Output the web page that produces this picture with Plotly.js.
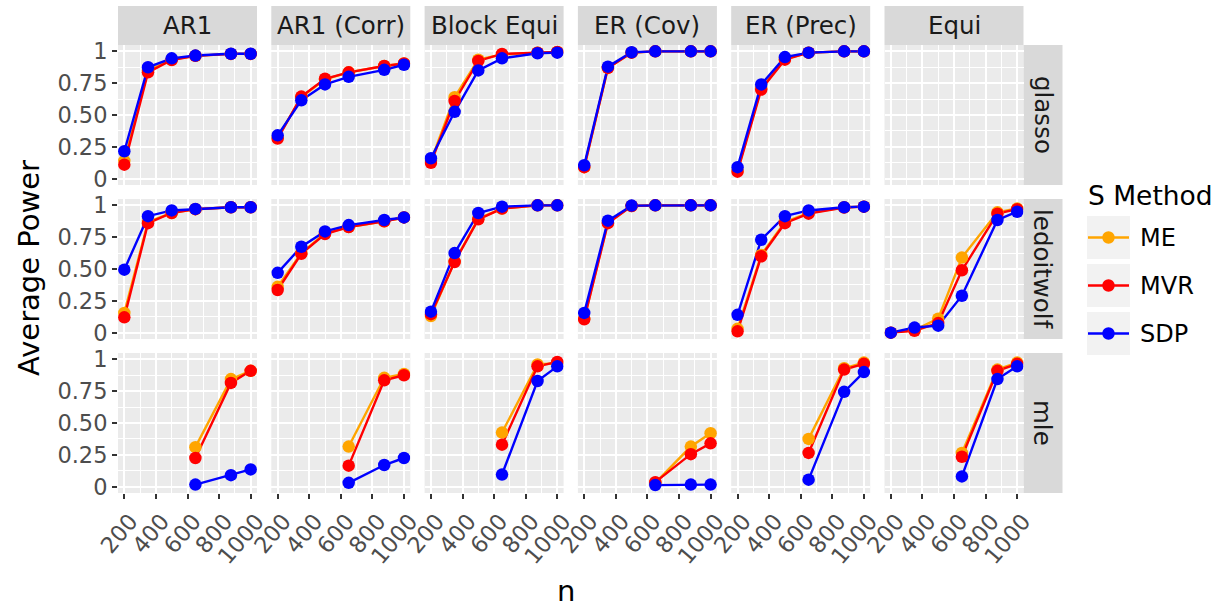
<!DOCTYPE html>
<html>
<head>
<meta charset="utf-8">
<script src="https://cdn.plot.ly/plotly-3.0.1.min.js"></script>
<style>html,body{margin:0;padding:0;background:#fff;}#chart{width:1222px;height:607px;}</style>
</head>
<body>
<div id="chart"></div>
<script>
// ---------- data ----------
const nValues = [200, 350, 500, 650, 875, 1000];
const covTypes = ["AR1", "AR1 (Corr)", "Block Equi", "ER (Cov)", "ER (Prec)", "Equi"];
const estimators = ["glasso", "ledoitwolf", "mle"];
const sMethods = ["ME", "MVR", "SDP"];
const methodColors = ["#FFA500", "#FF0000", "#0000FF"];
const xTickVals = [200, 400, 600, 800, 1000];
const xTickText = ["200", "400", "600", "800", "1000"];
const yTickVals = [0, 0.25, 0.5, 0.75, 1];
const yTickText = ["0", "0.25", "0.50", "0.75", "1"];

// rows: covariance types in order of covTypes; values over nValues
const glassoME = [
  [0.14, 0.85, 0.935, 0.965, 0.98, 0.98],
  [0.32, 0.64, 0.78, 0.835, 0.885, 0.905],
  [0.14, 0.64, 0.935, 0.975, 0.99, 0.995],
  [0.09, 0.87, 0.99, 1.0, 1.0, 1.0],
  [0.065, 0.71, 0.94, 0.99, 1.0, 1.0],
  [null, null, null, null, null, null]
];
const glassoMVR = [
  [0.11, 0.835, 0.932, 0.965, 0.98, 0.98],
  [0.315, 0.645, 0.785, 0.835, 0.885, 0.905],
  [0.125, 0.61, 0.925, 0.98, 0.99, 0.995],
  [0.09, 0.87, 0.99, 1.0, 1.0, 1.0],
  [0.055, 0.70, 0.935, 0.99, 1.0, 1.0],
  [null, null, null, null, null, null]
];
const glassoSDP = [
  [0.215, 0.875, 0.945, 0.967, 0.981, 0.981],
  [0.34, 0.615, 0.74, 0.80, 0.855, 0.895],
  [0.16, 0.525, 0.85, 0.945, 0.985, 0.99],
  [0.105, 0.88, 0.993, 1.0, 1.0, 1.0],
  [0.09, 0.74, 0.955, 0.99, 1.0, 1.0],
  [null, null, null, null, null, null]
];
const ledoitwolfME = [
  [0.155, 0.87, 0.94, 0.97, 0.985, 0.985],
  [0.36, 0.625, 0.78, 0.83, 0.875, 0.905],
  [0.13, 0.56, 0.895, 0.975, 1.0, 1.0],
  [0.11, 0.865, 0.995, 1.0, 1.0, 1.0],
  [0.03, 0.61, 0.87, 0.94, 0.985, 0.99],
  [0.0, 0.02, 0.11, 0.59, 0.945, 0.975]
];
const ledoitwolfMVR = [
  [0.12, 0.86, 0.94, 0.97, 0.985, 0.985],
  [0.335, 0.62, 0.775, 0.83, 0.875, 0.905],
  [0.145, 0.555, 0.89, 0.975, 1.0, 1.0],
  [0.105, 0.86, 0.995, 1.0, 1.0, 1.0],
  [0.01, 0.60, 0.86, 0.935, 0.983, 0.99],
  [0.0, 0.015, 0.075, 0.49, 0.935, 0.97]
];
const ledoitwolfSDP = [
  [0.495, 0.915, 0.96, 0.972, 0.985, 0.985],
  [0.47, 0.675, 0.795, 0.845, 0.885, 0.905],
  [0.165, 0.625, 0.94, 0.99, 1.0, 1.0],
  [0.155, 0.88, 0.998, 1.0, 1.0, 1.0],
  [0.14, 0.73, 0.915, 0.96, 0.985, 0.99],
  [0.0, 0.04, 0.055, 0.29, 0.885, 0.95]
];
const mleME = [
  [null, null, null, 0.31, 0.845, 0.91],
  [null, null, null, 0.315, 0.855, 0.885],
  [null, null, null, 0.425, 0.96, 0.97],
  [null, null, null, 0.03, 0.315, 0.42],
  [null, null, null, 0.375, 0.93, 0.975],
  [null, null, null, 0.265, 0.92, 0.975]
];
const mleMVR = [
  [null, null, null, 0.225, 0.815, 0.91],
  [null, null, null, 0.165, 0.835, 0.875],
  [null, null, null, 0.33, 0.945, 0.98],
  [null, null, null, 0.035, 0.255, 0.34],
  [null, null, null, 0.265, 0.92, 0.965],
  [null, null, null, 0.235, 0.91, 0.965]
];
const mleSDP = [
  [null, null, null, 0.016, 0.09, 0.135],
  [null, null, null, 0.03, 0.17, 0.225],
  [null, null, null, 0.095, 0.83, 0.945],
  [null, null, null, 0.012, 0.016, 0.016],
  [null, null, null, 0.055, 0.745, 0.90],
  [null, null, null, 0.08, 0.845, 0.945]
];
const powerByEstimator = [
  [glassoME, glassoMVR, glassoSDP],
  [ledoitwolfME, ledoitwolfMVR, ledoitwolfSDP],
  [mleME, mleMVR, mleSDP]
];

// ---------- layout geometry (pixels) ----------
const W = 1222, H = 607;
const colX0 = 118, colPitch = 153.3, panelW = 139;
const rowY0 = 45, rowPitch = 154, panelH = 140;
const stripSize = 39;
const FONT = "DejaVu Sans";
const TICK_SIZE = 22.5, STRIP_SIZE = 24.5, TITLE_SIZE = 29, LEG_TITLE_SIZE = 26.5, LEG_TEXT_SIZE = 24;

const px = v => v / W;
const py = v => 1 - v / H;

const traces = [];
const layout = {
  width: W, height: H,
  margin: {l: 0, r: 0, t: 0, b: 0},
  paper_bgcolor: "#FFFFFF",
  plot_bgcolor: "#EBEBEB",
  showlegend: false,
  font: {family: FONT, color: "#4D4D4D"},
  shapes: [],
  annotations: []
};

for (let r = 0; r < estimators.length; r++) {
  for (let c = 0; c < covTypes.length; c++) {
    const k = r * covTypes.length + c + 1;
    const xa = "xaxis" + (k === 1 ? "" : k);
    const ya = "yaxis" + (k === 1 ? "" : k);
    const xr = "x" + (k === 1 ? "" : k);
    const yr = "y" + (k === 1 ? "" : k);
    const x0 = colX0 + c * colPitch, x1 = x0 + panelW;
    const y0 = rowY0 + r * rowPitch, y1 = y0 + panelH;
    const bottom = r === estimators.length - 1;
    const left = c === 0;
    layout[xa] = {
      domain: [px(x0), px(x1)], anchor: yr,
      range: [160, 1040], fixedrange: true,
      tickmode: "array", tickvals: xTickVals, ticktext: xTickText,
      showticklabels: bottom, ticks: bottom ? "outside" : "",
      ticklen: 5, tickwidth: 2, tickcolor: "#333333",
      tickangle: -50, ticklabelshift: 6,
      tickfont: {family: FONT, size: TICK_SIZE, color: "#4D4D4D"},
      showgrid: true, gridcolor: "#FFFFFF", gridwidth: 2,
      zeroline: false, showline: false,
      minor: {tickmode: "array", tickvals: [300, 500, 700, 900], showgrid: true, gridcolor: "#FFFFFF", gridwidth: 1, ticks: ""}
    };
    layout[ya] = {
      domain: [py(y1), py(y0)], anchor: xr,
      range: [-0.05, 1.05], fixedrange: true,
      tickmode: "array", tickvals: yTickVals, ticktext: yTickText,
      showticklabels: left, ticks: left ? "outside" : "",
      ticklen: 5, tickwidth: 2, tickcolor: "#333333",
      tickfont: {family: FONT, size: TICK_SIZE, color: "#4D4D4D"},
      showgrid: true, gridcolor: "#FFFFFF", gridwidth: 2,
      zeroline: false, showline: false,
      minor: {tickmode: "array", tickvals: [0.125, 0.375, 0.625, 0.875], showgrid: true, gridcolor: "#FFFFFF", gridwidth: 1, ticks: ""}
    };
    // lines first, then points (ggplot layer order)
    for (let m = 0; m < sMethods.length; m++) {
      traces.push({
        type: "scatter", mode: "lines", xaxis: xr, yaxis: yr,
        x: nValues, y: powerByEstimator[r][m][c], connectgaps: false,
        line: {color: methodColors[m], width: 2.4}, hoverinfo: "skip", name: sMethods[m]
      });
    }
    for (let m = 0; m < sMethods.length; m++) {
      traces.push({
        type: "scatter", mode: "markers", xaxis: xr, yaxis: yr,
        x: nValues, y: powerByEstimator[r][m][c],
        marker: {color: methodColors[m], size: 12.5, line: {width: 0}}, name: sMethods[m]
      });
    }
    // top strips
    if (r === 0) {
      layout.shapes.push({type: "rect", xref: "paper", yref: "paper",
        x0: px(x0), x1: px(x1), y0: py(y0), y1: py(y0 - stripSize),
        fillcolor: "#D9D9D9", line: {width: 0}, layer: "below"});
      layout.annotations.push({xref: "paper", yref: "paper", x: px((x0 + x1) / 2), y: py(y0 - stripSize / 2),
        text: covTypes[c], showarrow: false, xanchor: "center", yanchor: "middle",
        font: {family: FONT, size: STRIP_SIZE, color: "#1A1A1A"}});
    }
    // right strips
    if (c === covTypes.length - 1) {
      layout.shapes.push({type: "rect", xref: "paper", yref: "paper",
        x0: px(x1), x1: px(x1 + stripSize), y0: py(y1), y1: py(y0),
        fillcolor: "#D9D9D9", line: {width: 0}, layer: "below"});
      layout.annotations.push({xref: "paper", yref: "paper", x: px(x1 + stripSize / 2), y: py((y0 + y1) / 2),
        text: estimators[r], showarrow: false, textangle: 90, xanchor: "center", yanchor: "middle",
        font: {family: FONT, size: STRIP_SIZE, color: "#1A1A1A"}});
    }
  }
}

// axis titles
layout.annotations.push({xref: "paper", yref: "paper", x: px(566), y: py(610), text: "n",
  showarrow: false, xanchor: "center", yanchor: "bottom", font: {family: FONT, size: TITLE_SIZE, color: "#000000"}});
layout.annotations.push({xref: "paper", yref: "paper", x: px(29), y: py(268), text: "Average Power",
  showarrow: false, textangle: -90, xanchor: "center", yanchor: "middle", font: {family: FONT, size: TITLE_SIZE, color: "#000000"}});

// legend (drawn manually to mimic ggplot keys)
layout.annotations.push({xref: "paper", yref: "paper", x: px(1086), y: py(195), text: "S Method",
  showarrow: false, xanchor: "left", yanchor: "middle", font: {family: FONT, size: LEG_TITLE_SIZE, color: "#000000"}});
const keyTop = 216, keyPitch = 48, keySize = 43, keyX0 = 1087;
for (let m = 0; m < sMethods.length; m++) {
  const ky0 = keyTop + m * keyPitch, ky1 = ky0 + keySize, kc = (ky0 + ky1) / 2;
  layout.shapes.push({type: "rect", xref: "paper", yref: "paper",
    x0: px(keyX0), x1: px(keyX0 + keySize), y0: py(ky1), y1: py(ky0),
    fillcolor: "#F2F2F2", line: {width: 0}});
  layout.shapes.push({type: "line", xref: "paper", yref: "paper",
    x0: px(keyX0 + 1), x1: px(keyX0 + keySize - 1), y0: py(kc), y1: py(kc),
    line: {color: methodColors[m], width: 2.4}});
  layout.shapes.push({type: "circle", xref: "paper", yref: "paper",
    x0: px(keyX0 + keySize / 2 - 6.25), x1: px(keyX0 + keySize / 2 + 6.25), y0: py(kc + 6.25), y1: py(kc - 6.25),
    fillcolor: methodColors[m], line: {width: 0}});
  layout.annotations.push({xref: "paper", yref: "paper", x: px(1138), y: py(kc), text: sMethods[m],
    showarrow: false, xanchor: "left", yanchor: "middle", font: {family: FONT, size: LEG_TEXT_SIZE, color: "#000000"}});
}

Plotly.newPlot("chart", traces, layout, {displayModeBar: false, staticPlot: true});
</script>
</body>
</html>
